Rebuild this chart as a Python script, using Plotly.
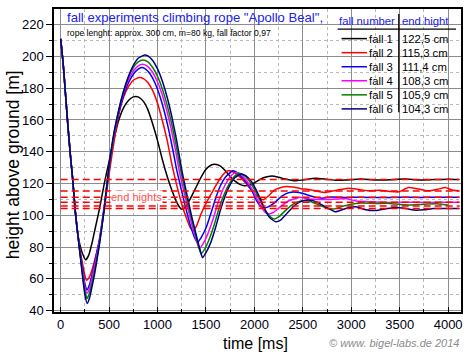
import plotly.graph_objects as go

# ---------------- data ----------------
fall_names = ["fall 1", "fall 2", "fall 3", "fall 4", "fall 5", "fall 6"]
end_heights = [122.5, 115.3, 111.4, 108.3, 105.9, 104.3]
colors = ["#000000", "#ff0000", "#0000ff", "#ff00ff", "#008000", "#000080"]

# common free-fall part (all falls identical)
drop_t = [0, 25, 50, 75, 100, 125, 150, 175]
drop_h = [211, 196, 176, 156, 138, 122, 103, 89]

fall1_t = [200, 225, 257, 290, 325, 350, 400, 450, 500, 550, 600, 650, 700, 750, 775, 800,
           850, 900, 950, 1000, 1050, 1100, 1150, 1200, 1243, 1280, 1330, 1400, 1450, 1500,
           1550, 1590, 1650, 1700, 1750, 1800, 1850, 1900, 1950, 2000, 2050, 2100, 2180, 2250,
           2320, 2420, 2500, 2630, 2750, 2850, 2950, 3100, 3250, 3400, 3550, 3700, 3850, 4000, 4110]
fall1_h = [81, 76, 72, 75, 83, 90, 104, 120, 134, 148, 160, 167.8, 172.3, 174.5, 174.8, 174.5,
           172, 166.5, 157.5, 147, 135, 124.5, 115.5, 108, 104, 104.5, 109.5, 118, 124, 129,
           131.5, 132.1, 131, 128, 124.5, 121.5, 119.5, 118.6, 119, 120.5, 122.3, 123.8, 124.8, 124,
           122.8, 121.7, 122.3, 123.4, 122.6, 122, 122.3, 122.8, 122.2, 122.4, 122.8, 122.3, 122.5, 122.7, 122.5]

fall2_t = [200, 225, 250, 267, 290, 325, 350, 400, 450, 500, 550, 600, 650, 700, 750, 810, 850,
           900, 950, 1000, 1050, 1100, 1150, 1200, 1250, 1300, 1340, 1365, 1400, 1450, 1500, 1550,
           1600, 1650, 1700, 1730, 1780, 1850, 1900, 1950, 2000, 2050, 2090, 2150, 2200, 2250, 2330,
           2400, 2480, 2560, 2650, 2730, 2850, 2970, 3080, 3180, 3300, 3400, 3490, 3590, 3700, 3800,
           3900, 3970, 4040, 4110]
fall2_h = [78, 70, 62, 59.2, 60.5, 66, 71.5, 84, 104, 126, 146, 163.5, 174.5, 181, 185, 186.7, 186.2,
           183.5, 178.5, 170.5, 159.5, 147, 131.5, 118.5, 107, 98, 92, 90.4, 93, 101, 107.5, 113,
           118.5, 123.5, 127, 128, 127.3, 124.2, 121, 117.3, 113.7, 110.8, 109.8, 112.5, 115.5, 117, 118.2,
           117.8, 116.8, 116.3, 115.2, 114.4, 115.8, 117.1, 116.3, 115.4, 115.8, 115, 114.8, 117.5, 116.5, 115.4,
           116.5, 117.5, 116, 115.4]

fall3_t = [200, 225, 250, 270, 295, 325, 350, 400, 450, 500, 550, 600, 650, 700, 750, 800, 835,
           870, 920, 970, 1020, 1070, 1120, 1170, 1200, 1250, 1300, 1350, 1390, 1414, 1450, 1500,
           1550, 1600, 1650, 1700, 1775, 1820, 1870, 1920, 1970, 2020, 2082, 2130, 2200, 2280, 2360,
           2460, 2540, 2630, 2700, 2800, 2950, 3100, 3300, 3500, 3700, 3900, 4110]
fall3_h = [77, 67, 57, 53, 56, 63, 70, 85, 106, 130, 150, 164.5, 175.5, 183.5, 188.8, 192, 193,
           192.3, 189.2, 183.7, 175.7, 165.3, 152.5, 137.5, 128, 115, 102.5, 91.5, 85, 83.1, 86, 92,
           101, 110.8, 118.8, 124, 128, 127, 124, 120.5, 116, 109.5, 104.6, 105, 107.5, 112, 114.4,
           114.4, 113, 111.3, 110.8, 111.5, 111.2, 111.4, 111.2, 111.4, 111.3, 111.4, 111.4]

fall4_t = [200, 225, 250, 272, 297, 325, 350, 400, 450, 500, 550, 600, 650, 700, 750, 800, 845,
           890, 940, 990, 1040, 1090, 1140, 1190, 1230, 1280, 1330, 1380, 1431, 1470, 1520, 1570,
           1620, 1670, 1720, 1770, 1810, 1860, 1910, 1960, 2010, 2060, 2110, 2151, 2200, 2270, 2350,
           2459, 2550, 2650, 2750, 2850, 2950, 3050, 3200, 3400, 3600, 3800, 4000, 4110]
fall4_h = [76.5, 65, 55, 51, 54, 61, 68, 84, 105, 130, 150.5, 165.5, 177, 185.3, 190.8, 194, 195,
           194, 190.8, 185.3, 177.5, 167.2, 154.5, 139.5, 126, 113, 100, 88.5, 79, 82, 88.5, 97,
           107, 115.5, 121.5, 125.5, 127, 125.8, 122.5, 118, 112.5, 106.5, 102, 100.9, 102, 105.5, 109,
           111.3, 110.5, 110, 110, 110.3, 110.5, 109, 108.5, 108.1, 108.3, 108.1, 108.3, 108.2]

fall5_t = [200, 225, 250, 272, 297, 325, 350, 400, 450, 500, 550, 600, 650, 700, 750, 800, 850,
           900, 950, 1000, 1050, 1100, 1150, 1200, 1240, 1290, 1340, 1390, 1448, 1490, 1540, 1590,
           1640, 1690, 1740, 1790, 1840, 1890, 1940, 1990, 2040, 2090, 2150, 2202, 2250, 2320, 2400,
           2480, 2560, 2650, 2750, 2820, 2900, 3000, 3100, 3250, 3400, 3500, 3600, 3750, 3900, 4000]
fall5_h = [76, 63, 52.5, 47.7, 51, 58, 65, 82.5, 104.5, 131, 151, 166.5, 178.5, 187.2, 193, 196.5, 197.7,
           196.5, 193, 187.4, 179.5, 169.2, 156.5, 141.5, 128, 114, 100.5, 88.5, 75.9, 79, 86, 95,
           105.5, 113.5, 119.8, 124.2, 126.5, 125.3, 122.2, 117.5, 111.7, 105.5, 100, 97.7, 99, 103, 107,
           109, 109, 107, 104.5, 104, 105.5, 107, 107.7, 107.5, 107.5, 106.8, 106.5, 107, 107.2, 106.5]

fall6_t = [200, 225, 250, 274, 300, 325, 350, 400, 450, 500, 550, 600, 650, 700, 750, 800, 866,
           900, 950, 1000, 1050, 1100, 1150, 1200, 1250, 1300, 1350, 1400, 1440, 1465, 1500, 1550,
           1600, 1650, 1700, 1750, 1800, 1860, 1910, 1960, 2010, 2060, 2110, 2160, 2219, 2270, 2340,
           2420, 2500, 2561, 2640, 2730, 2836, 2950, 3050, 3150, 3250, 3350, 3450, 3550, 3650, 3750,
           3850, 3950, 4110]
fall6_h = [75.5, 62, 50, 44.6, 48.5, 55.5, 63, 81.5, 104, 131.5, 152, 166.2, 178, 187.4, 194.3, 198.8, 200.9,
           200.3, 197.4, 192.1, 184.3, 174.1, 161.4, 146.2, 128.6, 114, 100, 87.5, 78, 73.4, 76.5, 83,
           92.5, 103.5, 112.5, 119.3, 123.8, 126, 125, 122, 117, 110.5, 103.5, 98.5, 96, 97, 101.5,
           106.5, 109.2, 109.6, 108.5, 105.5, 102.3, 104.5, 105.4, 103.5, 103, 104, 105, 104.5, 103.3, 103.5,
           104.3, 104.3, 104.3]

falls_t = [fall1_t, fall2_t, fall3_t, fall4_t, fall5_t, fall6_t]
falls_h = [fall1_h, fall2_h, fall3_h, fall4_h, fall5_h, fall6_h]

x_ticks = [0, 500, 1000, 1500, 2000, 2500, 3000, 3500, 4000]
y_ticks = [40, 60, 80, 100, 120, 140, 160, 180, 200, 220]

title_text = 'fall experiments climbing rope "Apollo Beal",'
subtitle_text = "rope lenght: approx. 300 cm, m=80 kg, fall factor 0,97"
end_label = "end hights"
dash_t = [0, 4120]

# ---------------- figure ----------------
W, H = 470, 355
L, R, T, B = 54, 463, 7, 312


def px(xp):
    return (xp - L) / (R - L)


def py(yp):
    return (B - yp) / (B - T)


fig = go.Figure()
for name, c, tt, hh in zip(fall_names, colors, falls_t, falls_h):
    fig.add_trace(go.Scatter(x=drop_t + tt, y=drop_h + hh, mode="lines", name=name,
                             line=dict(color=c, width=1.5, shape="spline", smoothing=0.5)))

for v in end_heights:
    fig.add_trace(go.Scatter(x=dash_t, y=[v, v], mode="lines",
                             line=dict(color="#ff0000", width=1.5, dash="7px,4px")))

shapes = []
# white boxes for title and legend
shapes.append(dict(type="rect", xref="paper", yref="paper", x0=px(62), x1=px(325), y0=py(37), y1=py(7.5),
                   fillcolor="white", line=dict(width=0), layer="between"))
shapes.append(dict(type="rect", xref="paper", yref="paper", x0=px(333), x1=px(462.5), y0=py(115), y1=py(7.5),
                   fillcolor="white", line=dict(width=0), layer="between"))
# legend table lines
shapes.append(dict(type="line", xref="paper", yref="paper", x0=px(339), x1=px(458), y0=py(27.3), y1=py(27.3),
                   line=dict(color="black", width=1.3), layer="above"))
shapes.append(dict(type="line", xref="paper", yref="paper", x0=px(400.5), x1=px(400.5), y0=py(12), y1=py(111),
                   line=dict(color="black", width=1.3), layer="above"))

annotations = []
row_y0, row_dy = 36.8, 14.15
for i, (name, c, v) in enumerate(zip(fall_names, colors, end_heights)):
    yy = row_y0 + i * row_dy
    shapes.append(dict(type="line", xref="paper", yref="paper", x0=px(343), x1=px(368.5), y0=py(yy), y1=py(yy),
                       line=dict(color=c, width=1.5), layer="above"))
    annotations.append(dict(x=px(396.5), y=py(yy), xref="paper", yref="paper", text=name, showarrow=False,
                            xanchor="right", yanchor="middle", font=dict(size=11.3, color="black")))
    annotations.append(dict(x=px(401.5), y=py(yy), xref="paper", yref="paper",
                            text=f"{v:.1f}".replace(".", ",") + " cm", showarrow=False,
                            xanchor="left", yanchor="middle", font=dict(size=11.3, color="black")))

annotations.append(dict(x=px(369), y=py(19.3), xref="paper", yref="paper", text="fall number", showarrow=False,
                        xanchor="center", yanchor="middle", font=dict(size=11.3, color="#1a1aee")))
annotations.append(dict(x=px(427.5), y=py(19.3), xref="paper", yref="paper", text="end hight", showarrow=False,
                        xanchor="center", yanchor="middle", font=dict(size=11.3, color="#1a1aee")))

annotations.append(dict(x=px(65.5), y=py(15.5), xref="paper", yref="paper", text=title_text, showarrow=False,
                        xanchor="left", yanchor="middle", font=dict(size=13.1, color="#2020ee")))
annotations.append(dict(x=px(65.5), y=py(31.5), xref="paper", yref="paper", text=subtitle_text, showarrow=False,
                        xanchor="left", yanchor="middle", font=dict(size=8.6, color="black")))

annotations.append(dict(x=787, y=111.8, xref="x", yref="y", text=end_label, showarrow=False,
                        xanchor="center", yanchor="middle", bgcolor="white", borderpad=0,
                        font=dict(size=11, color="#ff4d4d")))

annotations.append(dict(x=px(256.7), y=py(343.3), xref="paper", yref="paper", text="time [ms]", showarrow=False,
                        xanchor="center", yanchor="middle", font=dict(size=16, color="black")))
annotations.append(dict(x=px(13), y=py(164), xref="paper", yref="paper", text="height above ground [m]",
                        showarrow=False, textangle=-90, xanchor="center", yanchor="middle",
                        font=dict(size=17.5, color="black")))
annotations.append(dict(x=1.0, y=py(343), xref="paper", yref="paper", text="<i>© www. bigel-labs.de 2014</i>",
                        showarrow=False, xanchor="right", yanchor="middle", font=dict(size=11, color="#8a8a8a")))

fig.update_layout(
    width=W, height=H,
    margin=dict(l=L, r=W - R, t=T, b=H - B),
    plot_bgcolor="white", paper_bgcolor="white",
    showlegend=False,
    font=dict(family="Liberation Sans, Arial, sans-serif", color="black"),
    shapes=shapes, annotations=annotations,
)
fig.update_xaxes(range=[-69, 4133], tickvals=x_ticks, ticktext=[str(v) for v in x_ticks],
                 showgrid=True, gridcolor="#8c8c8c", gridwidth=1.3, zeroline=False,
                 minor=dict(dtick=250, tick0=0, showgrid=True, gridcolor="#b8b8b8", griddash="dot", gridwidth=1,
                            ticks="inside", ticklen=3, tickcolor="black"),
                 ticks="inside", ticklen=5, tickcolor="black", showline=True, linecolor="black", linewidth=1.5,
                 mirror=True, tickfont=dict(size=13, color="#000010"))
fig.update_yaxes(range=[39.2, 229.8], tickvals=y_ticks, ticktext=[str(v) for v in y_ticks],
                 showgrid=True, gridcolor="#8c8c8c", gridwidth=1.3, zeroline=False,
                 minor=dict(dtick=10, tick0=0, showgrid=True, gridcolor="#b8b8b8", griddash="dot", gridwidth=1,
                            ticks="outside", ticklen=3, tickcolor="black"),
                 ticks="outside", ticklen=6, tickcolor="black", showline=True, linecolor="black", linewidth=1.5,
                 mirror=True, tickfont=dict(size=13, color="#000010"))

fig.write_html("out.html", config={"displayModeBar": False},
               post_script="document.body.style.margin='0px';")
